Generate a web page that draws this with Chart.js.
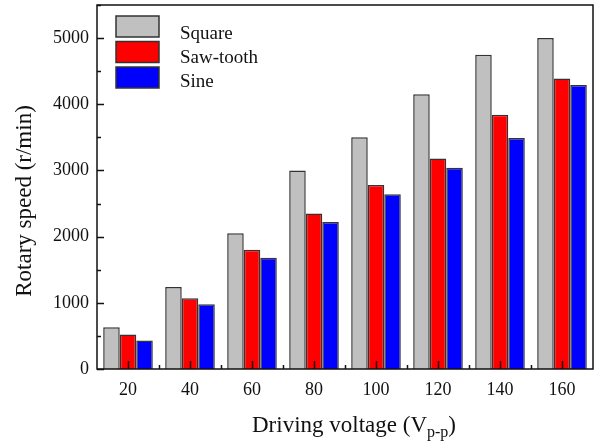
<!DOCTYPE html>
<html>
<head>
<meta charset="utf-8">
<script src="https://cdn.jsdelivr.net/npm/chart.js@4.4.1/dist/chart.umd.min.js"></script>
<style>
  html, body { margin: 0; padding: 0; background: #fff; }
  canvas { display: block; }
</style>
</head>
<body>
<canvas id="chart" width="596" height="442"></canvas>
<script>
const voltages = ['20', '40', '60', '80', '100', '120', '140', '160'];
const squareSpeed = [630, 1240, 2050, 3000, 3500, 4150, 4750, 5000];
const sawSpeed = [520, 1070, 1800, 2350, 2780, 3180, 3840, 4390];
const sineSpeed = [430, 980, 1680, 2220, 2640, 3040, 3490, 4290];
const seriesNames = ['Square', 'Saw-tooth', 'Sine'];
const yTicks = [0, 1000, 2000, 3000, 4000, 5000];
const yMax = 5500;

const FONT = "'Liberation Serif', 'Times New Roman', serif";

// frame, inward ticks, axis titles and legend
const decor = {
  id: 'decor',
  afterDraw(chart) {
    const ctx = chart.ctx;
    const a = chart.chartArea;
    const x = chart.scales.x;
    const y = chart.scales.y;
    ctx.save();
    ctx.strokeStyle = '#111';
    ctx.lineWidth = 1.5;
    ctx.strokeRect(a.left, a.top, a.right - a.left, a.bottom - a.top);

    ctx.beginPath();
    yTicks.forEach((v) => {
      let py = Math.round(y.getPixelForValue(v)) + 0.5;
      ctx.moveTo(a.left, py);
      ctx.lineTo(a.left + 7, py);
      py = Math.round(y.getPixelForValue(v + 500)) + 0.5;
      ctx.moveTo(a.left, py);
      ctx.lineTo(a.left + 4, py);
    });
    const n = voltages.length;
    for (let i = 0; i < n; i++) {
      const px = Math.round(x.getPixelForValue(i)) + 0.5;
      ctx.moveTo(px, a.bottom);
      ctx.lineTo(px, a.bottom - 8);
    }
    for (let i = 0; i < n - 1; i++) {
      const px = Math.round((x.getPixelForValue(i) + x.getPixelForValue(i + 1)) / 2) + 0.5;
      ctx.moveTo(px, a.bottom);
      ctx.lineTo(px, a.bottom - 4);
    }
    ctx.stroke();

    // y title
    ctx.fillStyle = '#111';
    ctx.font = '23px ' + FONT;
    ctx.textAlign = 'center';
    ctx.textBaseline = 'middle';
    ctx.save();
    ctx.translate(25, 201);
    ctx.rotate(-Math.PI / 2);
    ctx.fillText('Rotary speed (r/min)', 0, 0);
    ctx.restore();

    // x title with subscript
    const main = 'Driving voltage (V';
    const sub = 'p-p';
    const close = ')';
    ctx.textAlign = 'left';
    ctx.textBaseline = 'alphabetic';
    ctx.font = '23px ' + FONT;
    const w1 = ctx.measureText(main).width;
    const w3 = ctx.measureText(close).width;
    ctx.font = '16px ' + FONT;
    const w2 = ctx.measureText(sub).width;
    let tx = 354 - (w1 + w2 + w3) / 2;
    const base = 432;
    ctx.font = '23px ' + FONT;
    ctx.fillText(main, tx, base);
    tx += w1;
    ctx.font = '16px ' + FONT;
    ctx.fillText(sub, tx, base + 5);
    tx += w2;
    ctx.font = '23px ' + FONT;
    ctx.fillText(close, tx, base);

    // legend
    ctx.font = '19px ' + FONT;
    chart.data.datasets.forEach((ds, i) => {
      const by = 16 + i * 25.5;
      ctx.fillStyle = ds.backgroundColor;
      ctx.fillRect(116, by, 43, 21);
      ctx.strokeStyle = '#333';
      ctx.lineWidth = 1.5;
      ctx.strokeRect(116, by, 43, 21);
      ctx.fillStyle = '#111';
      ctx.fillText(ds.label, 180, 39 + i * 24);
    });
    ctx.restore();
  }
};

new Chart(document.getElementById('chart'), {
  type: 'bar',
  data: {
    labels: voltages,
    datasets: [
      { label: seriesNames[0], data: squareSpeed, backgroundColor: '#c0c0c0' },
      { label: seriesNames[1], data: sawSpeed, backgroundColor: '#ff0000' },
      { label: seriesNames[2], data: sineSpeed, backgroundColor: '#0000ff' }
    ]
  },
  options: {
    responsive: false,
    animation: false,
    devicePixelRatio: 1,
    layout: { padding: { top: 5, right: 3, left: 0, bottom: 0 } },
    datasets: {
      bar: {
        borderColor: '#333',
        borderWidth: 1.5,
        categoryPercentage: 0.8,
        barPercentage: 1.0
      }
    },
    plugins: {
      legend: { display: false },
      tooltip: { enabled: false }
    },
    scales: {
      x: {
        grid: { display: false, drawTicks: false },
        border: { display: false },
        ticks: { color: '#111', padding: 10, font: { family: FONT, size: 18 } },
        afterFit(scale) {
          scale.height = 73;
          scale.paddingLeft = 0;
          scale.paddingRight = 0;
        }
      },
      y: {
        min: 0,
        max: yMax,
        grid: { display: false, drawTicks: false },
        border: { display: false },
        ticks: {
          color: '#111',
          padding: 8,
          font: { family: FONT, size: 18 },
          callback: (v) => String(v)
        },
        afterBuildTicks(scale) { scale.ticks = yTicks.map((v) => ({ value: v })); },
        afterFit(scale) {
          scale.width = 97;
          scale.paddingTop = 0;
          scale.paddingBottom = 0;
        }
      }
    }
  },
  plugins: [decor]
});
</script>
</body>
</html>
